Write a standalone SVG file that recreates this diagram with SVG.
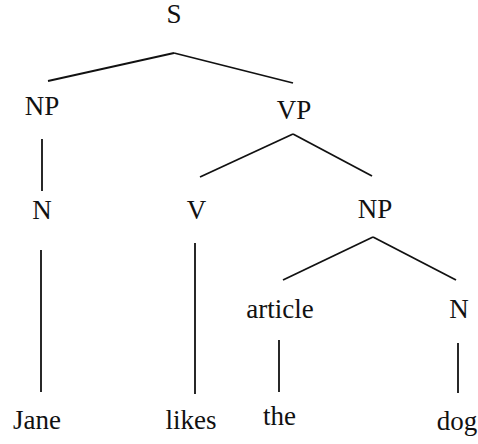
<svg xmlns="http://www.w3.org/2000/svg" width="478" height="444" viewBox="0 0 478 444">
<style>
.t{font-family:"Liberation Serif","Times New Roman",serif;font-size:27px;fill:#111;text-anchor:middle}
line{stroke:#111;stroke-width:1.8;fill:none}
</style>
<rect width="478" height="444" fill="#fff"/>
<g id="connectors">
<line x1="174" y1="53" x2="48" y2="81"/>
<line x1="174" y1="53" x2="293" y2="83"/>
<line x1="42" y1="139" x2="42" y2="191"/>
<line x1="293" y1="134" x2="200" y2="177"/>
<line x1="293" y1="134" x2="372" y2="176"/>
<line x1="41" y1="250" x2="41" y2="392"/>
<line x1="195" y1="243" x2="195" y2="394"/>
<line x1="373" y1="237" x2="283" y2="280"/>
<line x1="373" y1="237" x2="456" y2="280"/>
<line x1="279" y1="340" x2="279" y2="392"/>
<line x1="458" y1="343" x2="458" y2="393"/>
</g>
<g id="S"><text class="t" x="174" y="23">S</text></g>
<g id="NP1"><text class="t" x="42" y="115">NP</text></g>
<g id="VP"><text class="t" x="294" y="119">VP</text></g>
<g id="N1"><text class="t" x="42" y="219">N</text></g>
<g id="V"><text class="t" x="196.5" y="219">V</text></g>
<g id="NP2"><text class="t" x="375" y="218">NP</text></g>
<g id="article"><text class="t" x="280" y="318">article</text></g>
<g id="N2"><text class="t" x="459" y="318">N</text></g>
<g id="Jane"><text class="t" x="37" y="429">Jane</text></g>
<g id="likes"><text class="t" x="191" y="429">likes</text></g>
<g id="the"><text class="t" x="279.5" y="425">the</text></g>
<g id="dog"><text class="t" x="457" y="430">dog</text></g>
</svg>
